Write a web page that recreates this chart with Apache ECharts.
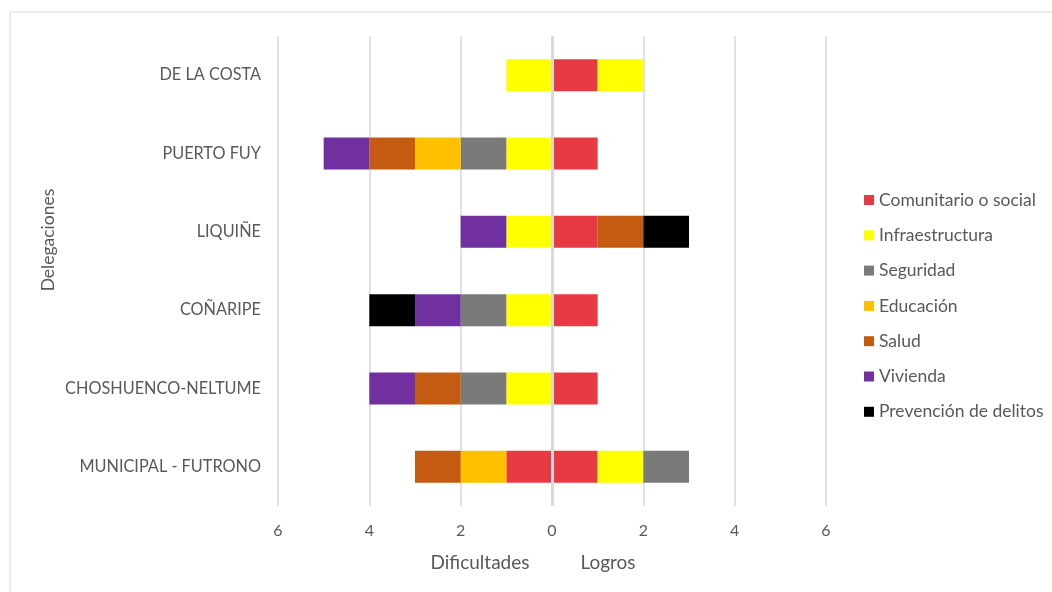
<!DOCTYPE html>
<html>
<head>
<meta charset="utf-8">
<script src="https://cdn.jsdelivr.net/npm/echarts@6/dist/echarts.min.js"></script>
<style>html,body{margin:0;padding:0;background:#fff}#c{width:1052px;height:592px}</style>
</head>
<body>
<div id="c"></div>
<script>
// Categories (bottom to top)
const categories = ['MUNICIPAL - FUTRONO','CHOSHUENCO-NELTUME','COÑARIPE','LIQUIÑE','PUERTO FUY','DE LA COSTA'];
const seriesNames = ['Comunitario o social','Infraestructura','Seguridad','Educación','Salud','Vivienda','Prevención de delitos'];
const seriesColors = ['#E83A45','#FFFF00','#7A7A7A','#FFC000','#C55A11','#7030A0','#000000'];
const xTicks = [-6,-4,-2,0,2,4,6];

// Logros (right side)
const logrosComunitario = [1,1,1,1,1,1];
const logrosInfra       = [1,0,0,0,0,1];
const logrosSeguridad   = [1,0,0,0,0,0];
const logrosEducacion   = [0,0,0,0,0,0];
const logrosSalud       = [0,0,0,1,0,0];
const logrosVivienda    = [0,0,0,0,0,0];
const logrosPrevencion  = [0,0,0,1,0,0];

// Dificultades (left side)
const difComunitario = [1,0,0,0,0,0];
const difInfra       = [0,1,1,1,1,1];
const difSeguridad   = [0,1,1,0,1,0];
const difEducacion   = [1,0,0,0,1,0];
const difSalud       = [1,1,0,0,1,0];
const difVivienda    = [0,1,1,1,1,0];
const difPrevencion  = [0,0,1,0,0,0];

const logros = [logrosComunitario,logrosInfra,logrosSeguridad,logrosEducacion,logrosSalud,logrosVivienda,logrosPrevencion];
const dificultades = [difComunitario,difInfra,difSeguridad,difEducacion,difSalud,difVivienda,difPrevencion];

const font = 'Lato';
const txt = '#595959';
const series = [];
seriesNames.forEach((n,i)=>{
  series.push({name:n,type:'bar',stack:'t',stackStrategy:'samesign',barWidth:32,
    itemStyle:{color:seriesColors[i]},data:dificultades[i].map(v=>v? -v : null)});
});
seriesNames.forEach((n,i)=>{
  series.push({name:n,type:'bar',stack:'t',stackStrategy:'samesign',barWidth:32,
    itemStyle:{color:seriesColors[i]},data:logros[i].map(v=>v? v : null)});
});
series[0].markLine = {silent:true,symbol:'none',label:{show:false},
  lineStyle:{color:'#d9d9d9',width:3,type:'solid'},data:[{xAxis:0}]};

const chart = echarts.init(document.getElementById('c'));
chart.setOption({
  animation:false,
  grid:{left:278,right:226,top:36,bottom:86},
  legend:{orient:'vertical',left:859,top:186,itemWidth:10,itemHeight:10,itemGap:17.3,
    icon:'rect',data:seriesNames,textStyle:{fontFamily:font,fontSize:17.5,color:txt}},
  xAxis:{type:'value',min:xTicks[0],max:xTicks[xTicks.length-1],interval:2,
    axisLine:{show:false},axisTick:{show:false},
    axisLabel:{margin:17,fontFamily:font,fontSize:16,color:txt,formatter:v=>String(Math.abs(v))},
    splitLine:{lineStyle:{color:'#d9d9d9',width:1.5}}},
  yAxis:{type:'category',data:categories,axisLine:{show:false},axisTick:{show:false},
    axisLabel:{margin:17,fontFamily:font,fontSize:16.3,color:txt}},
  graphic:[
    {type:'rect',shape:{x:10,y:12,width:1060,height:600},style:{fill:'none',stroke:'#d9d9d9',lineWidth:1},silent:true},
    {type:'text',x:48,y:240,rotation:Math.PI/2,style:{text:'Delegaciones',fontFamily:font,fontSize:17.5,fill:txt,textAlign:'center',textVerticalAlign:'middle'}},
    {type:'text',x:480,y:563,style:{text:'Dificultades',fontFamily:font,fontSize:19,fill:txt,textAlign:'center',textVerticalAlign:'middle'}},
    {type:'text',x:608,y:563,style:{text:'Logros',fontFamily:font,fontSize:19,fill:txt,textAlign:'center',textVerticalAlign:'middle'}}
  ],
  series:series
});
</script>
</body>
</html>
